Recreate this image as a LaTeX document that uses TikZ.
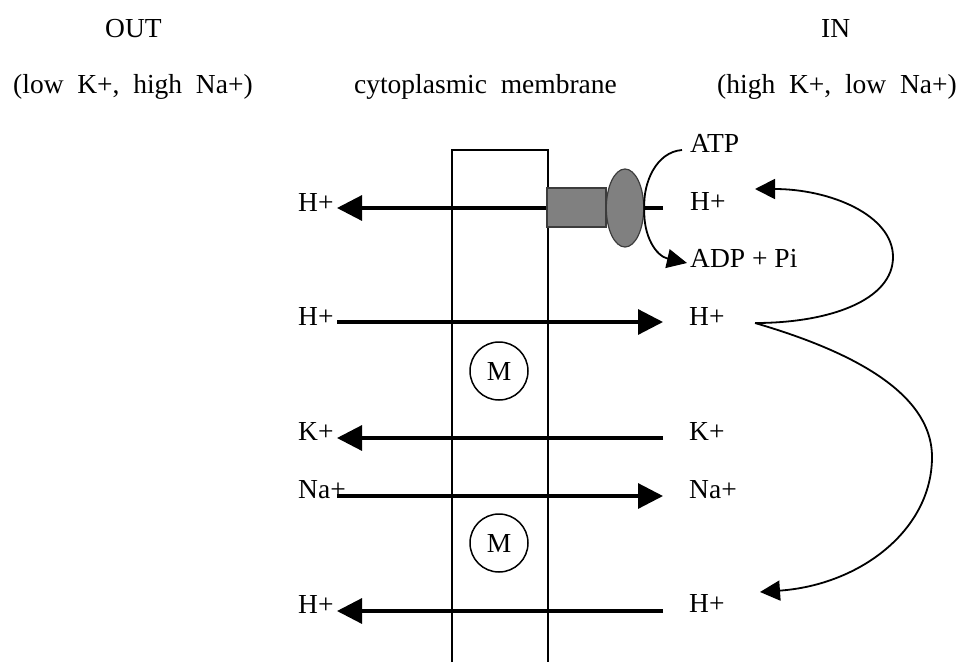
\documentclass[tikz,border=0pt]{standalone}
\usepackage{fontspec}
\setmainfont{Liberation Serif}
\usetikzlibrary{arrows.meta,shapes.geometric}
\definecolor{pumpgray}{HTML}{808080}
\definecolor{pumpedge}{HTML}{3C3C3C}
\begin{document}
\begin{tikzpicture}[x=1pt,y=-1pt,
  lbl/.style={inner sep=0pt, anchor=base west, font=\fontsize{27.5}{33}\selectfont},
  lble/.style={lbl, anchor=base east},
  ion/.style={line width=3.2pt, -{Triangle[length=25pt,width=25pt]}},
  loop/.style={line width=1.8pt, -{Triangle[length=20pt,width=20pt]}},
  wall/.style={line width=2.6pt},
  motor/.style={circle, draw, line width=1.5pt, minimum size=58pt, inner sep=0pt,
                font=\fontsize{27.5}{33}\selectfont},
  pump/.style={fill=pumpgray, draw=pumpedge, line width=1.2pt, inner sep=0pt}]
\useasboundingbox (0,0) rectangle (964,662);

% headings
\node[lbl] (out) at (105,37) {OUT};
\node[lbl] (in) at (821,37) {IN};
\node[lbl] (outc) at (13,93) {(low\ \ K+,\ \ high\ \ Na+)};
\node[lble] (memb) at (617,93) {cytoplasmic\ \ membrane};
\node[lbl] (inc) at (717,93) {(high\ \ K+,\ \ low\ \ Na+)};

% membrane
\coordinate (mbl) at (452,662);
\coordinate (mtl) at (452,150);
\coordinate (mtr) at (548,150);
\coordinate (mbr) at (548,662);
\draw[wall] (mbl) -- (mtl) -- (mtr) -- (mbr);

% horizontal ion lines: end points
\coordinate (l1) at (337,208); \coordinate (r1) at (663,208);
\coordinate (l2) at (337,322); \coordinate (r2) at (663,322);
\coordinate (l3) at (337,438); \coordinate (r3) at (663,438);
\coordinate (l4) at (337,496); \coordinate (r4) at (663,496);
\coordinate (l5) at (337,611); \coordinate (r5) at (663,611);

\draw[ion] (r1) -- (l1);
\draw[ion] (l2) -- (r2);
\draw[ion] (r3) -- (l3);
\draw[ion] (l4) -- (r4);
\draw[ion] (r5) -- (l5);

% left labels
\node[lbl] (hl1) at (298,211) {H+};
\node[lbl] (hl2) at (298,325) {H+};
\node[lbl] (kl) at (298,440) {K+};
\node[lbl] (nal) at (298,498) {Na+};
\node[lbl] (hl5) at (298,613) {H+};

% right labels
\node[lbl] (atp) at (690,152) {ATP};
\node[lbl] (hr1) at (690,210) {H+};
\node[lbl] (adp) at (690,267) {ADP + Pi};
\node[lbl] (hr2) at (689,325) {H+};
\node[lbl] (kr) at (689,440) {K+};
\node[lbl] (nar) at (689,498) {Na+};
\node[lbl] (hr5) at (689,612) {H+};

% motors
\node[motor] (m1) at (499,371) {M};
\node[motor] (m2) at (499,543) {M};

% ATPase
\node[pump, rectangle, minimum width=59pt, minimum height=39pt] (stalk) at (576.5,207.5) {};
\node[pump, ellipse, minimum width=37.4pt, minimum height=78pt] (atpase) at (625,208) {};

% ATP -> ADP curve
\coordinate (atpend) at (682,150);
\coordinate (adptip) at (687,263);
\draw[line width=1.8pt, -{Triangle[length=20pt,width=19pt]}]
  (atpend) .. controls (656,152) and (643,183) .. (atpase.east)
  .. controls (643,236) and (656,256) .. (adptip);

% proton recirculation curves
\coordinate (hsrc) at (755,323);
\coordinate (atip) at (755,189);
\coordinate (btip) at (760,592);
\draw[loop] (hsrc) .. controls (830,323) and (893,300) .. (893,257)
  .. controls (893,215) and (830,189) .. (atip);
\draw[loop] (hsrc) .. controls (830,345) and (932,385) .. (932,457)
  .. controls (932,530) and (860,585) .. (btip);
\end{tikzpicture}
\end{document}
